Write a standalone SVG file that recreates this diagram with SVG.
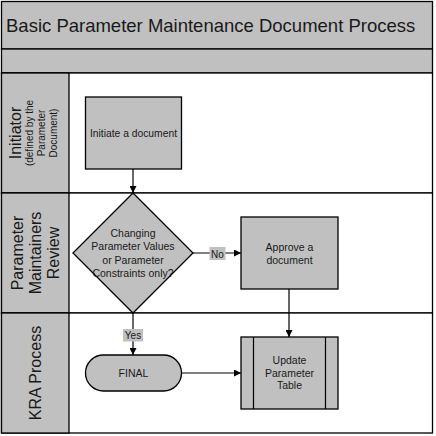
<svg xmlns="http://www.w3.org/2000/svg" width="436" height="436" viewBox="0 0 436 436">
<style>
.band{fill:#c0c0c0;stroke:#000;stroke-width:1.3}
.lane{fill:#fff;stroke:#000;stroke-width:1.3}
.shape{fill:#c0c0c0;stroke:#000;stroke-width:1.3}
.ln{fill:none;stroke:#000;stroke-width:1.2}
.t{font-family:"Liberation Sans",Arial,sans-serif;fill:#1a1a1a}
.lbl{fill:#c0c0c0;stroke:none}
</style>
<defs>
<marker id="ah" viewBox="0 0 10 10" refX="10" refY="5" markerWidth="7" markerHeight="7" markerUnits="userSpaceOnUse" orient="auto">
<path d="M0,0 L10,5 L0,10 Z" fill="#000"/>
</marker>
</defs>
<rect x="0" y="0" width="436" height="436" fill="#fff"/>
<g id="pool">
<rect class="band" x="1.5" y="1.5" width="431" height="47.5"/>
<text class="t" x="6" y="32" font-size="18.5">Basic Parameter Maintenance Document Process</text>
<rect class="band" x="1.5" y="49" width="431" height="24"/>
</g>
<g id="lane-initiator">
<rect class="lane" x="1.5" y="73" width="431" height="120"/>
<rect class="band" x="1.5" y="73" width="67.5" height="120"/>
<text class="t" transform="translate(0,133) rotate(-90)" text-anchor="middle"><tspan x="0" y="21" font-size="16">Initiator</tspan><tspan x="0" y="33" font-size="10">(defined by the</tspan><tspan x="0" y="45" font-size="10">Parameter</tspan><tspan x="0" y="57" font-size="10">Document)</tspan></text>
</g>
<g id="lane-review">
<rect class="lane" x="1.5" y="193" width="431" height="120"/>
<rect class="band" x="1.5" y="193" width="67.5" height="120"/>
<text class="t" transform="translate(0,253) rotate(-90)" text-anchor="middle" font-size="16"><tspan x="0" y="23">Parameter</tspan><tspan x="0" y="41">Maintainers</tspan><tspan x="0" y="59">Review</tspan></text>
</g>
<g id="lane-kra">
<rect class="lane" x="1.5" y="313" width="431" height="120"/>
<rect class="band" x="1.5" y="313" width="67.5" height="120"/>
<text class="t" transform="translate(0,373) rotate(-90)" text-anchor="middle" font-size="16"><tspan x="0" y="41">KRA Process</tspan></text>
</g>
<g id="connectors">
<line class="ln" x1="133" y1="169" x2="133" y2="193" marker-end="url(#ah)"/>
<line class="ln" x1="193" y1="253" x2="241" y2="253" marker-end="url(#ah)"/>
<rect class="lbl" x="209.5" y="247" width="16" height="13"/>
<text class="t" x="217.5" y="257.5" font-size="10" text-anchor="middle">No</text>
<line class="ln" x1="289" y1="289" x2="289" y2="337" marker-end="url(#ah)"/>
<line class="ln" x1="133" y1="313" x2="133" y2="355" marker-end="url(#ah)"/>
<rect class="lbl" x="123" y="329" width="20" height="12.5"/>
<text class="t" x="133" y="339" font-size="10" text-anchor="middle">Yes</text>
<line class="ln" x1="182" y1="373" x2="241" y2="373" marker-end="url(#ah)"/>
</g>
<g id="initiate">
<rect class="shape" x="85.5" y="97" width="96" height="72"/>
<text class="t" x="133.5" y="136.5" font-size="10.3" text-anchor="middle">Initiate a document</text>
</g>
<g id="decision">
<polygon class="shape" points="133,193 193,253 133,313 73,253"/>
<text class="t" font-size="10.5" text-anchor="middle"><tspan x="133" y="237">Changing</tspan><tspan x="133" y="250.3">Parameter Values</tspan><tspan x="133" y="263.6">or Parameter</tspan><tspan x="133" y="277">Constraints only?</tspan></text>
</g>
<g id="approve">
<rect class="shape" x="241" y="217" width="97" height="72"/>
<text class="t" font-size="10.5" text-anchor="middle"><tspan x="289.5" y="250.5">Approve a</tspan><tspan x="289.5" y="263.5">document</tspan></text>
</g>
<g id="final">
<rect class="shape" x="85.5" y="355" width="96" height="36" rx="18" ry="18"/>
<text class="t" x="133.5" y="376.5" font-size="10.5" text-anchor="middle">FINAL</text>
</g>
<g id="update">
<rect class="shape" x="241" y="337" width="97" height="72"/>
<line class="ln" x1="253.5" y1="337" x2="253.5" y2="409"/>
<line class="ln" x1="325.5" y1="337" x2="325.5" y2="409"/>
<text class="t" font-size="10.5" text-anchor="middle"><tspan x="289.5" y="364">Update</tspan><tspan x="289.5" y="376.7">Parameter</tspan><tspan x="289.5" y="389.4">Table</tspan></text>
</g>
</svg>
